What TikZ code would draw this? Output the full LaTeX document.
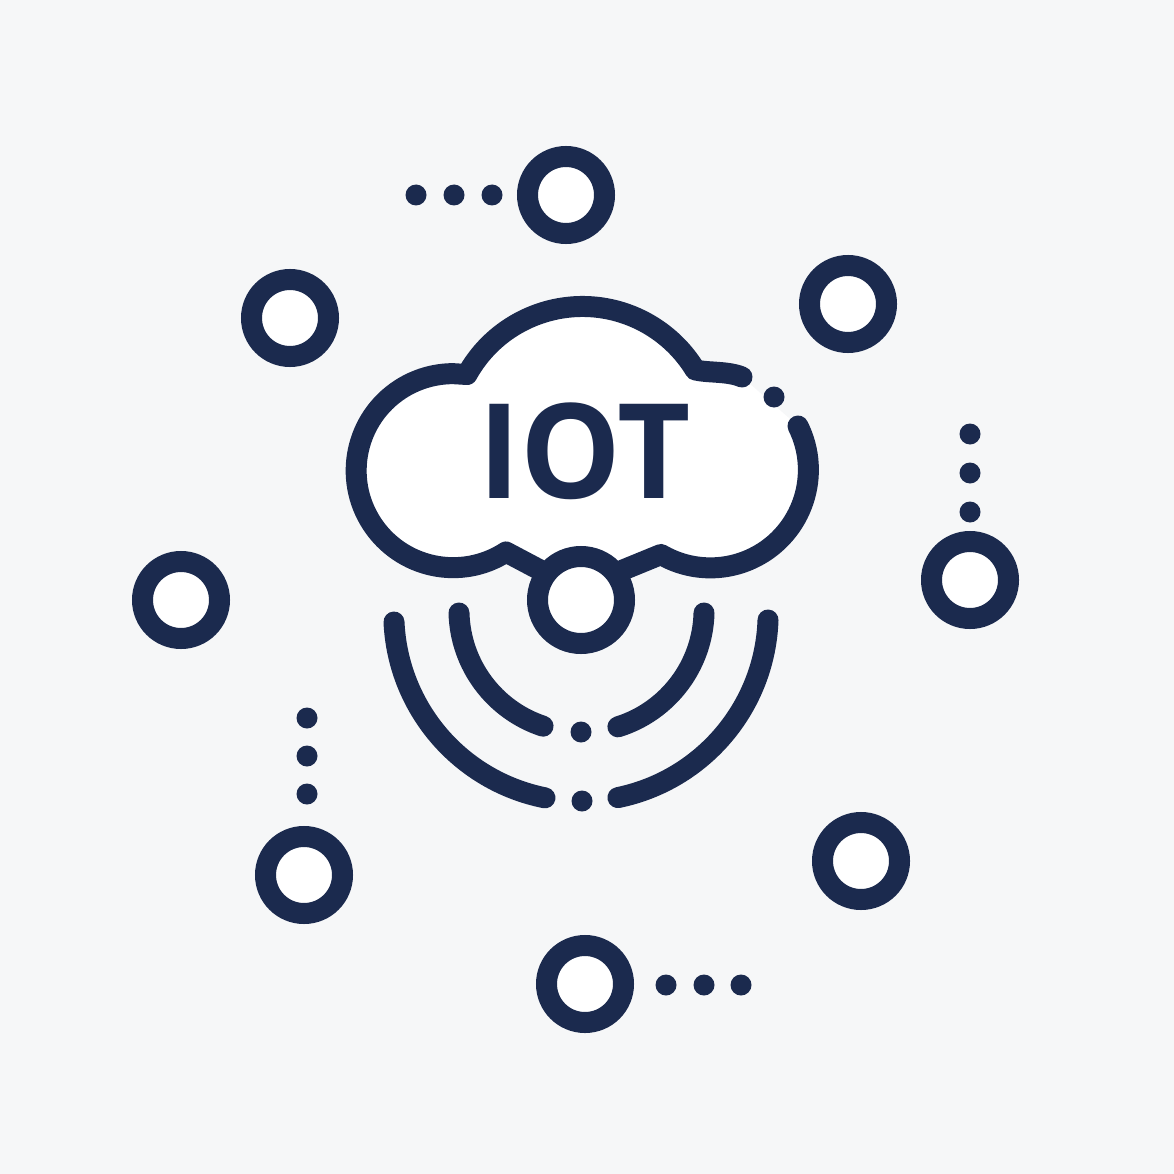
\documentclass[tikz,border=0pt]{standalone}
\usepackage{graphicx}
\usepackage{fontspec}
\setmainfont{Open Sans}
\definecolor{ink}{HTML}{1B2A4E}
\definecolor{paper}{HTML}{F6F7F8}
\tikzset{
  ring/.style={circle,draw=ink,fill=white,line width=21pt,minimum size=77pt,inner sep=0pt},
  hubring/.style={circle,draw=ink,fill=white,line width=21pt,minimum size=87pt,inner sep=0pt},
  dotmark/.style={circle,fill=ink,minimum size=21pt,inner sep=0pt},
  stroke/.style={draw=ink,line width=21pt,line cap=round,line join=round}
}
\begin{document}
\begin{tikzpicture}[x=1pt,y=-1pt]
\useasboundingbox (0,0) rectangle (1174,1174);
\fill[paper] (0,0) rectangle (1174,1174);
% cloud fill
\fill[white] (798,426) arc[start angle=-26.6,end angle=120.3,radius=98]
  -- (623,570) -- (540,570) -- (506,552)
  arc[start angle=57,end angle=270,radius=97]
  -- (467,374.5)
  arc[start angle=209,end angle=328.7,radius=132]
  .. controls (708,373) and (728,371) .. (742,377) -- cycle;
\draw[stroke] (798,426) arc[start angle=-26.6,end angle=120.3,radius=98]
  -- (623,570);
\draw[stroke] (540,570) -- (506,552)
  arc[start angle=57,end angle=270,radius=97]
  -- (467,374.5)
  arc[start angle=209,end angle=328.7,radius=132]
  .. controls (708,373) and (728,371) .. (742,377);
\node[text=ink,inner sep=0pt,anchor=center,font={\fontsize{132}{132}\selectfont\bfseries}] (iot) at (585,451) {\scalebox{0.96}[1]{IOT}};
% nodes
\node[hubring] (hub) at (581,600) {};
\node[ring] (n1) at (566,195) {};
\node[ring] (n2) at (848,304) {};
\node[ring] (n3) at (290,318) {};
\node[ring] (n4) at (970,580) {};
\node[ring] (n5) at (181,600) {};
\node[ring] (n6) at (304,875) {};
\node[ring] (n7) at (861,861) {};
\node[ring] (n8) at (585,984) {};
% dots
\foreach \nm/\px/\py in {a/416/195,b/454/195,c/492/195,d/970/434,e/970/473,f/970/512,
  g/307/718,h/307/756,i/307/794,j/666/985,k/704/985,l/741/985,m/774/397,o/581/732,p/582/801}
  \node[dotmark] (dot\nm) at (\px,\py) {};
% waves
\draw[stroke] (459,613) arc[start angle=178.5,end angle=108.3,radius=122.6];
\draw[stroke] (704,613) arc[start angle=1.5,end angle=72.7,radius=122.6];
\draw[stroke] (394,622) arc[start angle=177.4,end angle=101.3,radius=188];
\draw[stroke] (768,620) arc[start angle=2,end angle=78.4,radius=188];
\end{tikzpicture}
\end{document}
